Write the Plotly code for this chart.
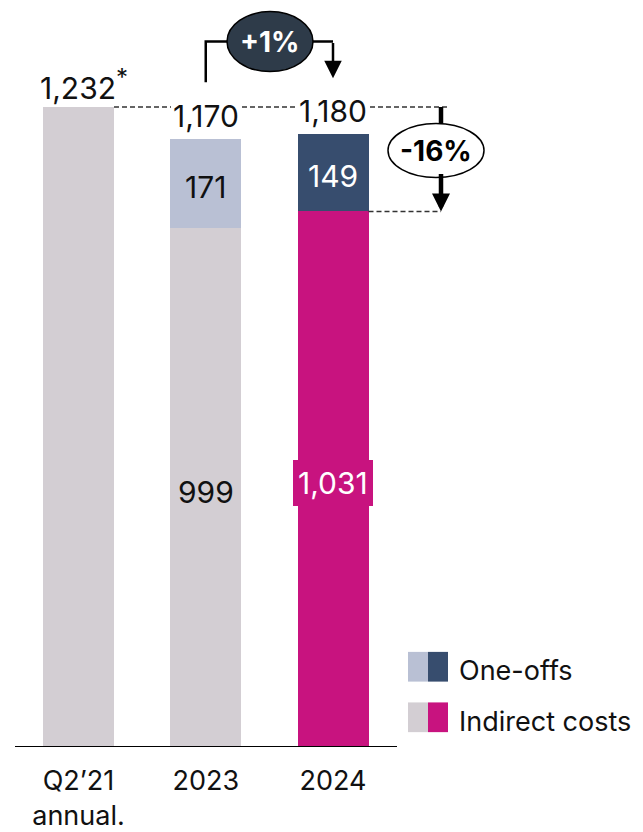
import plotly.graph_objects as go

# ---------------- data ----------------
categories = ["Q2\u201921<br>annual.", "2023", "2024"]
indirect_costs = [1232, 999, 1031]
one_offs = [0, 171, 149]
totals = [1232, 1170, 1180]
total_labels = ["1,232<sup><span style='font-size:24px'>*</span></sup>", "1,170", "1,180"]
change_labels = ["+1%", "-16%"]
legend_labels = ["One-offs", "Indirect costs"]

# ---------------- style ----------------
W, H = 643, 832
FONT = "Inter"
GREY = "#d3ced3"
LIGHT = "#b9c0d4"
NAVY = "#374d6e"
MAGENTA = "#c8137f"
DARK = "#2e3b49"

indirect_colors = [GREY, GREY, MAGENTA]
oneoff_colors = [LIGHT, LIGHT, NAVY]
indirect_text_colors = ["#111111", "#111111", "white"]
oneoff_text_colors = ["#111111", "#111111", "white"]

# pixel geometry of plot area
BASE_PX = 754          # baseline pixel row
PX_PER_UNIT = (754 - 108) / 1232.0
X0_PX = 78.5           # centre of first bar
STEP_PX = 127.25       # distance between bars
BAR_W = 71 / STEP_PX

x_range = [-X0_PX / STEP_PX, (W - X0_PX) / STEP_PX]
y_range = [0, BASE_PX / PX_PER_UNIT]


def px2x(p):
    return (p - X0_PX) / STEP_PX


def px2y(p):
    return (BASE_PX - p) / PX_PER_UNIT


xs = list(range(len(categories)))

fig = go.Figure()
fig.add_trace(go.Bar(
    x=xs, y=indirect_costs, width=BAR_W,
    marker=dict(color=indirect_colors, line=dict(width=0)),
    name=legend_labels[1], hoverinfo="skip",
))
fig.add_trace(go.Bar(
    x=xs, y=one_offs, width=BAR_W,
    marker=dict(color=oneoff_colors, line=dict(width=0)),
    name=legend_labels[0], hoverinfo="skip",
))

shapes = []
annotations = []

# inside value labels (segments 2023 / 2024)
for i in (1, 2):
    bg = MAGENTA if i == 2 else None
    a = dict(x=i, y=indirect_costs[i] / 2, xref="x", yref="y",
             text=f"{indirect_costs[i]:,}", showarrow=False, yshift=-4,
             font=dict(family=FONT, size=30, color=indirect_text_colors[i]))
    if bg:
        a.update(bgcolor=bg, borderwidth=0, borderpad=5)
    annotations.append(a)
    annotations.append(dict(x=i, y=indirect_costs[i] + one_offs[i] / 2, xref="x", yref="y",
                            text=f"{one_offs[i]:,}", showarrow=False, yshift=-3,
                            font=dict(family=FONT, size=30, color=oneoff_text_colors[i])))

# axis line
shapes.append(dict(type="line", xref="x", yref="y", x0=px2x(15), x1=px2x(397),
                   y0=0, y1=0, line=dict(color="black", width=2)))

# dashed reference lines
shapes.append(dict(type="line", xref="x", yref="y", x0=0 + BAR_W / 2, x1=px2x(450),
                   y0=totals[0], y1=totals[0],
                   line=dict(color="#333333", width=1.5, dash="5px,3px")))
shapes.append(dict(type="line", xref="x", yref="y", x0=2 + BAR_W / 2, x1=px2x(441),
                   y0=indirect_costs[2], y1=indirect_costs[2],
                   line=dict(color="#333333", width=1.5, dash="5px,3px")))

# total labels
for i, (t, lab) in enumerate(zip(totals, total_labels)):
    annotations.append(dict(x=i, y=t, xref="x", yref="y", text=lab, showarrow=False,
                            yanchor="middle", yshift=23,
                            xshift=5 if i == 0 else 0,
                            font=dict(family=FONT, size=30, color="#111111"),
                            bgcolor="white" if i else None, borderpad=2, borderwidth=0))

# -16% arrow: top segment, arrow below ellipse
AX = px2x(441)
shapes.append(dict(type="line", xref="x", yref="y", x0=AX, x1=AX,
                   y0=totals[0], y1=px2y(130), line=dict(color="black", width=4.5)))
annotations.append(dict(x=AX, y=indirect_costs[2], ax=AX, ay=px2y(174),
                        xref="x", yref="y", axref="x", ayref="y",
                        text="", showarrow=True, arrowhead=2, arrowsize=0.8,
                        arrowwidth=4.5, arrowcolor="black", standoff=0, startstandoff=0))
shapes.append(dict(type="circle", xref="x", yref="y", xsizemode="pixel", ysizemode="pixel",
                   xanchor=px2x(436), yanchor=px2y(152), x0=-48, x1=48, y0=-27, y1=27,
                   fillcolor="white", line=dict(color="black", width=1.5)))
annotations.append(dict(x=px2x(436), y=px2y(152), xref="x", yref="y", text=f"<b>{change_labels[1]}</b>",
                        showarrow=False, font=dict(family=FONT, size=28, color="black")))

# +1% bracket
shapes.append(dict(type="path", xref="x", yref="y",
                   path=f"M {1} {px2y(83)} L {1} {px2y(42)} L {2} {px2y(42)}",
                   line=dict(color="black", width=2.5)))
annotations.append(dict(x=2, y=px2y(79), ax=2, ay=px2y(42),
                        xref="x", yref="y", axref="x", ayref="y",
                        text="", showarrow=True, arrowhead=2, arrowsize=1.4,
                        arrowwidth=2.5, arrowcolor="black", standoff=0, startstandoff=0))
shapes.append(dict(type="circle", xref="x", yref="y", xsizemode="pixel", ysizemode="pixel",
                   xanchor=px2x(270), yanchor=px2y(42), x0=-43, x1=43, y0=-30, y1=30,
                   fillcolor=DARK, line=dict(color="black", width=1.5)))
annotations.append(dict(x=px2x(270), y=px2y(42), xref="x", yref="y", text=f"<b>{change_labels[0]}</b>",
                        showarrow=False, font=dict(family=FONT, size=28, color="white")))

# custom legend
legend_rows = [(legend_labels[0], LIGHT, NAVY, 673), (legend_labels[1], GREY, MAGENTA, 724)]
for lab, c1, c2, cy in legend_rows:
    shapes.append(dict(type="rect", xref="x", yref="y", x0=px2x(408), x1=px2x(428),
                       y0=px2y(cy + 15), y1=px2y(cy - 15), fillcolor=c1, line=dict(width=0)))
    shapes.append(dict(type="rect", xref="x", yref="y", x0=px2x(428), x1=px2x(448),
                       y0=px2y(cy + 15), y1=px2y(cy - 15), fillcolor=c2, line=dict(width=0)))
    annotations.append(dict(x=px2x(457), y=px2y(cy), xref="x", yref="y", text=lab,
                            showarrow=False, xanchor="left", yanchor="middle", yshift=-4,
                            font=dict(family=FONT, size=27, color="#111111")))

fig.update_layout(
    width=W, height=H,
    margin=dict(l=0, r=0, t=0, b=H - BASE_PX, pad=0),
    barmode="stack",
    showlegend=False,
    plot_bgcolor="white", paper_bgcolor="white",
    font=dict(family=FONT, color="#111111"),
    shapes=shapes, annotations=annotations,
    xaxis=dict(range=x_range, tickvals=xs, ticktext=categories, showgrid=False,
               zeroline=False, showline=False, ticks="", ticklabelstandoff=15,
               tickfont=dict(family=FONT, size=27, color="#111111"), fixedrange=True),
    yaxis=dict(range=y_range, visible=False, showgrid=False, zeroline=False, fixedrange=True),
)

fig.write_html(
    "out.html",
    config={"displayModeBar": False},
    post_script="document.body.style.margin='0';document.body.style.overflow='hidden';",
)
